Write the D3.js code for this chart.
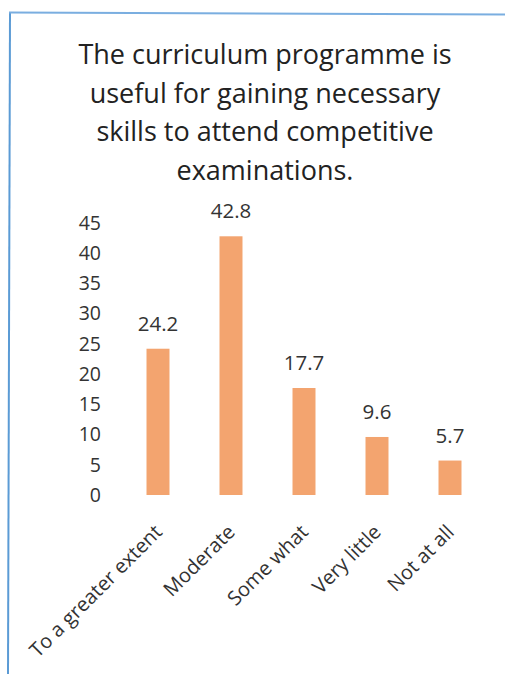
<!DOCTYPE html>
<html><head><meta charset="utf-8">
<script src="https://cdn.jsdelivr.net/npm/d3@7"></script>
<style>html,body{margin:0;padding:0;background:#fff;}</style>
</head><body>
<script>
const titleLines = ["The curriculum programme is","useful for gaining necessary","skills to attend competitive","examinations."];
const categories = ["To a greater extent","Moderate","Some what","Very little","Not at all"];
const values = [24.2, 42.8, 17.7, 9.6, 5.7];
const yTicks = [0,5,10,15,20,25,30,35,40,45];

const W = 505, H = 674;
const font = "Open Sans, sans-serif";
const txt = "#333";
const svg = d3.select("body").append("svg").attr("width", W).attr("height", H);

// frame (partial, as in the scan)
svg.append("line").attr("x1",10).attr("y1",12).attr("x2",8).attr("y2",H).attr("stroke","#5b9bd5").attr("stroke-width",2);
svg.append("line").attr("x1",9).attr("y1",12.5).attr("x2",W).attr("y2",14.5).attr("stroke","#7aaee0").attr("stroke-width",2);

// title
svg.append("g").selectAll("text").data(titleLines).join("text")
  .attr("x", 265).attr("y", (d,i)=>64 + i*38.7)
  .attr("text-anchor","middle").attr("font-family",font).attr("font-size",27)
  .attr("fill","#222").text(d=>d);

const x = d3.scaleBand().domain(categories).range([121.5, 486.5]).paddingInner(0.685).paddingOuter(0.3425);
const y = d3.scaleLinear().domain([0,45]).range([495, 223]);

// y tick labels
svg.append("g").selectAll("text").data(yTicks).join("text")
  .attr("x", 101).attr("y", d=>y(d)).attr("dy","0.35em")
  .attr("text-anchor","end").attr("font-family",font).attr("font-size",19.5)
  .attr("fill",txt).text(d=>d);

// bars
svg.append("g").selectAll("rect").data(values).join("rect")
  .attr("x",(d,i)=>x(categories[i])).attr("width",x.bandwidth())
  .attr("y",d=>y(d)).attr("height",d=>y(0)-y(d))
  .attr("fill","#f3a46f");

// value labels
svg.append("g").selectAll("text").data(values).join("text")
  .attr("x",(d,i)=>x(categories[i])+x.bandwidth()/2).attr("y",d=>y(d)-18)
  .attr("text-anchor","middle").attr("font-family",font).attr("font-size",20.5)
  .attr("fill",txt).text(d=>d.toFixed(1));

// category labels
svg.append("g").selectAll("text").data(categories).join("text")
  .attr("transform",d=>`translate(${x(d)+x.bandwidth()/2-6},${522}) rotate(-45)`)
  .attr("text-anchor","end").attr("dy","0.8em").attr("font-family",font).attr("font-size",20)
  .attr("fill",txt).text(d=>d);
</script>
</body></html>
